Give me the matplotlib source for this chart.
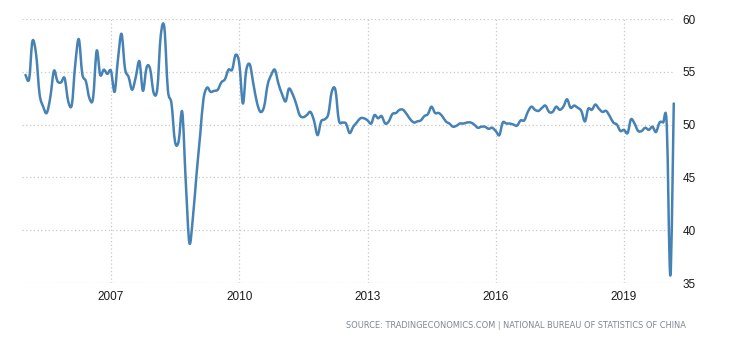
import numpy as np
import pandas as pd
import matplotlib
matplotlib.use("Agg")
import matplotlib.pyplot as plt
import matplotlib.dates as mdates
from matplotlib.path import Path
from matplotlib.patches import PathPatch

# Monthly China NBS manufacturing PMI, Jan 2005 - Mar 2020
start_month = "2005-01-01"
pmi_2005 = [54.7, 54.3, 57.9, 56.7, 52.9, 51.7, 51.1, 52.6, 55.1, 54.1, 54.0, 54.4]
pmi_2006 = [52.2, 51.9, 55.6, 58.1, 54.8, 54.1, 52.5, 52.5, 57.0, 54.7, 55.2, 54.8]
pmi_2007 = [55.1, 53.1, 56.1, 58.6, 55.3, 54.5, 53.3, 54.5, 56.0, 53.2, 55.4, 55.3]
pmi_2008 = [53.0, 53.4, 58.4, 59.2, 53.3, 52.0, 48.4, 48.4, 51.2, 44.6, 38.8, 41.2]
pmi_2009 = [45.3, 49.0, 52.4, 53.5, 53.1, 53.2, 53.3, 54.0, 54.3, 55.2, 55.2, 56.6]
pmi_2010 = [55.8, 52.0, 55.1, 55.7, 53.9, 52.1, 51.2, 51.7, 53.8, 54.7, 55.2, 53.9]
pmi_2011 = [52.9, 52.2, 53.4, 52.9, 52.0, 50.9, 50.7, 50.9, 51.2, 50.4, 49.0, 50.3]
pmi_2012 = [50.5, 51.0, 53.1, 53.3, 50.4, 50.2, 50.1, 49.2, 49.8, 50.2, 50.6, 50.6]
pmi_2013 = [50.4, 50.1, 50.9, 50.6, 50.8, 50.1, 50.3, 51.0, 51.1, 51.4, 51.4, 51.0]
pmi_2014 = [50.5, 50.2, 50.3, 50.4, 50.8, 51.0, 51.7, 51.1, 51.1, 50.8, 50.3, 50.1]
pmi_2015 = [49.8, 49.9, 50.1, 50.1, 50.2, 50.2, 50.0, 49.7, 49.8, 49.8, 49.6, 49.7]
pmi_2016 = [49.4, 49.0, 50.2, 50.1, 50.1, 50.0, 49.9, 50.4, 50.4, 51.2, 51.7, 51.4]
pmi_2017 = [51.3, 51.6, 51.8, 51.2, 51.2, 51.7, 51.4, 51.7, 52.4, 51.6, 51.8, 51.6]
pmi_2018 = [51.3, 50.3, 51.5, 51.4, 51.9, 51.5, 51.2, 51.3, 50.8, 50.2, 50.0, 49.4]
pmi_2019 = [49.5, 49.2, 50.5, 50.1, 49.4, 49.4, 49.7, 49.5, 49.8, 49.3, 50.2, 50.2]
pmi_2020 = [50.0, 35.7, 52.0]

y_ticks = [35, 40, 45, 50, 55, 60]
source_text = "SOURCE: TRADINGECONOMICS.COM | NATIONAL BUREAU OF STATISTICS OF CHINA"

values = (pmi_2005 + pmi_2006 + pmi_2007 + pmi_2008 + pmi_2009 + pmi_2010 +
          pmi_2011 + pmi_2012 + pmi_2013 + pmi_2014 + pmi_2015 + pmi_2016 +
          pmi_2017 + pmi_2018 + pmi_2019 + pmi_2020)
dates = pd.date_range(start_month, periods=len(values), freq="MS")
xs = mdates.date2num(dates.to_pydatetime())
ys = np.array(values, dtype=float)

line_color = "#4682B4"

fig = plt.figure(figsize=(7.3, 3.4), dpi=100)
ax = fig.add_axes([22 / 730, 57 / 340, 652 / 730, 264 / 340])

# smooth spline-like line (Catmull-Rom as cubic Bezier segments)
P = np.column_stack([xs, ys])
verts = [P[0]]
codes = [Path.MOVETO]
n = len(P)
for i in range(n - 1):
    p0 = P[i - 1] if i > 0 else P[i]
    p1 = P[i]
    p2 = P[i + 1]
    p3 = P[i + 2] if i + 2 < n else P[i + 1]
    c1 = p1 + (p2 - p0) / 6.0
    c2 = p2 - (p3 - p1) / 6.0
    verts += [c1, c2, p2]
    codes += [Path.CURVE4] * 3
path = Path(np.array(verts), codes)
ax.add_patch(PathPatch(path, facecolor="none", edgecolor=line_color, lw=1.8,
                       capstyle="round", joinstyle="round", clip_on=False, zorder=3))

ax.set_xlim(mdates.date2num(pd.Timestamp("2004-12-02")),
            mdates.date2num(pd.Timestamp("2020-03-03")))
ax.set_ylim(35, 60)

ax.xaxis.set_major_locator(mdates.YearLocator(3))
ax.xaxis.set_major_formatter(mdates.DateFormatter("%Y"))
ax.set_yticks(y_ticks)
ax.yaxis.tick_right()

for s in ax.spines.values():
    s.set_visible(False)

ax.grid(True, which="major", color="#c8c8c8", linestyle=(0, (1, 2)), linewidth=0.9)
ax.set_axisbelow(True)
ax.tick_params(axis="both", length=0, labelsize=8.5, colors="#1a1a1a",
               labelfontfamily="Liberation Sans")
ax.tick_params(axis="x", pad=6)
ax.tick_params(axis="y", pad=6)

fig.text(686 / 730, 1 - 325 / 340, source_text, ha="right", va="center",
         fontsize=5.95, color="#7d8896", family="DejaVu Sans")

fig.savefig("out.png", dpi=100, facecolor="white")
